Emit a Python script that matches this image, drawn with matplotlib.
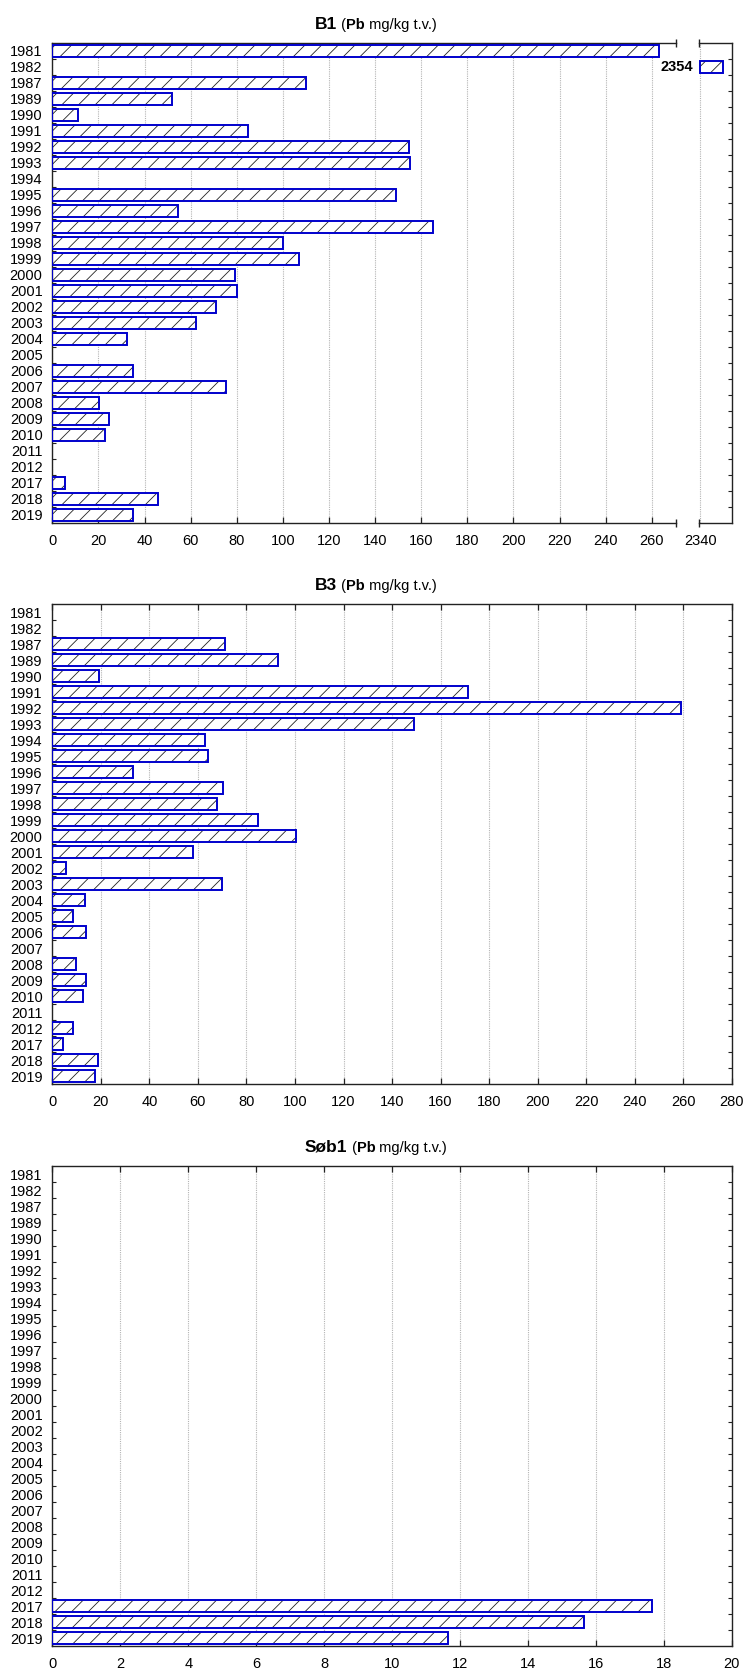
import numpy as np
import matplotlib
matplotlib.use("Agg")
import matplotlib.pyplot as plt
from matplotlib.offsetbox import TextArea, HPacker, AnchoredOffsetbox

plt.rcParams['font.family'] = ['Liberation Sans', 'DejaVu Sans']
plt.rcParams['hatch.linewidth'] = 0.6

nan = np.nan

years = ['1981', '1982', '1987', '1989', '1990', '1991', '1992', '1993', '1994', '1995',
         '1996', '1997', '1998', '1999', '2000', '2001', '2002', '2003', '2004', '2005',
         '2006', '2007', '2008', '2009', '2010', '2011', '2012', '2017', '2018', '2019']

# Pb, mg/kg dry weight
b1_pb = [263, 2354, 110, 52, 11.3, 85, 154.7, 155.2, nan, 149,
         54.5, 165.3, 99.9, 107.2, 79.2, 80.2, 71.1, 62.5, 32.4, nan,
         35.1, 75.3, 20.2, 24.6, 23.0, nan, nan, 5.5, 46.0, 35.1]

b3_pb = [nan, nan, 71.2, 93.0, 19.4, 171.4, 259.1, 149.0, 63.0, 64.3,
         33.4, 70.3, 68.0, 84.8, 100.4, 58.1, 5.6, 69.9, 13.3, 8.5,
         14.0, nan, 9.8, 14.0, 12.6, nan, 8.7, 4.4, 19.0, 17.6]

sob1_pb = [nan] * 27 + [17.65, 15.66, 11.64]

b1_xticks = list(range(0, 261, 20))
b1_break_xticks = [2340]
b3_xticks = list(range(0, 281, 20))
sob1_xticks = list(range(0, 21, 2))

EDGE = '#0000CC'
HATCH = '#222222'
SPINE = '#222222'
W, H = 745, 1670

fig = plt.figure(figsize=(W / 100, H / 100), dpi=100)


def axes_px(left, top, right, bottom):
    return fig.add_axes([left / W, 1 - bottom / H, (right - left) / W, (bottom - top) / H])


def draw_bars(ax, values, lo, hi):
    pos = np.arange(len(years))
    vals = np.array(values, dtype=float)
    keep = ~np.isnan(vals) & (vals >= lo) & (vals <= hi)
    start = lo if lo > 0 else 0
    widths = vals[keep] - start
    ax.barh(pos[keep], widths, left=start, height=0.78, color='white',
            edgecolor=HATCH, linewidth=0, hatch='//', zorder=2)
    ax.barh(pos[keep], widths, left=start, height=0.78, fill=False,
            edgecolor=EDGE, linewidth=1.4, zorder=3)


def style_axes(ax, xlim, xticks, left_side=True, right_side=True):
    n = len(years)
    ax.set_ylim(n - 0.5, -0.5)
    ax.set_xlim(*xlim)
    ax.set_xticks(xticks)
    ax.set_xticklabels([str(t) for t in xticks])
    ax.set_yticks(np.arange(n))
    ax.set_yticks(np.arange(0.5, n - 1, 1), minor=True)
    if left_side:
        ax.set_yticklabels(years)
    else:
        ax.set_yticklabels([])
    ax.tick_params(axis='x', which='major', direction='in', top=True, bottom=True,
                   length=4, width=0.9, color=SPINE, labelsize=10.5, pad=8)
    ax.tick_params(axis='y', which='major', length=0, labelsize=10.5, pad=7,
                   left=left_side, right=False)
    ax.tick_params(axis='y', which='minor', direction='in', length=3, width=0.8,
                   color=SPINE, left=left_side, right=right_side)
    for s in ax.spines.values():
        s.set_color(SPINE)
        s.set_linewidth(1.0)
    ax.spines['left'].set_visible(left_side)
    ax.spines['right'].set_visible(right_side)
    ax.grid(axis='x', which='major', color='#b4b4b4', linestyle=(0, (1, 1)), linewidth=0.8)
    ax.set_axisbelow(True)


def title(name, top_px):
    bold = dict(weight='bold', size=12.5, color='black')
    reg = dict(size=10.5, color='black')
    subbold = dict(weight='bold', size=10.5, color='black')
    box = HPacker(children=[TextArea(name, textprops=bold),
                            TextArea(' (', textprops=reg),
                            TextArea('Pb', textprops=subbold),
                            TextArea(' mg/kg t.v.)', textprops=reg)],
                  align='baseline', pad=0, sep=0)
    anchored = AnchoredOffsetbox(loc='lower center', child=box, pad=0, borderpad=0,
                                 frameon=False, bbox_to_anchor=(376 / W, 1 - (top_px - 11) / H),
                                 bbox_transform=fig.transFigure)
    fig.add_artist(anchored)


def break_marks(ax, xpos):
    ax.plot([xpos, xpos], [0, 1], linestyle='none', marker='|', markersize=6,
            markeredgewidth=1.0, color=SPINE, transform=ax.transAxes, clip_on=False, zorder=5)


# B1: main range plus a narrow broken segment for the outlier
ax1 = axes_px(52.3, 43, 676, 523)
ax1r = axes_px(699.3, 43, 732.3, 523)
draw_bars(ax1, b1_pb, 0, 270)
draw_bars(ax1r, b1_pb, 2340, 2360)
style_axes(ax1, (0, 270.5), b1_xticks, left_side=True, right_side=False)
style_axes(ax1r, (2339.5, 2360), b1_break_xticks, left_side=False, right_side=True)
ax1r.tick_params(axis='x', which='major', length=0)
break_marks(ax1, 1)
break_marks(ax1r, 0)
for i, v in enumerate(b1_pb):
    if not np.isnan(v) and v >= 2340:
        ax1r.annotate(f'{v:.0f}', xy=(2340, i), xytext=(-5, 0), textcoords='offset points',
                      ha='right', va='center', fontsize=10.5, weight='bold',
                      annotation_clip=False)
title('B1', 43)

# B3
ax2 = axes_px(52.3, 604, 731.8, 1084)
draw_bars(ax2, b3_pb, 0, 280)
style_axes(ax2, (0, 280), b3_xticks)
title('B3', 604)

# Søb1
ax3 = axes_px(52.3, 1166, 731.8, 1646)
draw_bars(ax3, sob1_pb, 0, 20)
style_axes(ax3, (0, 20), sob1_xticks)
title('Søb1', 1166)

fig.savefig('out.png', dpi=100)
